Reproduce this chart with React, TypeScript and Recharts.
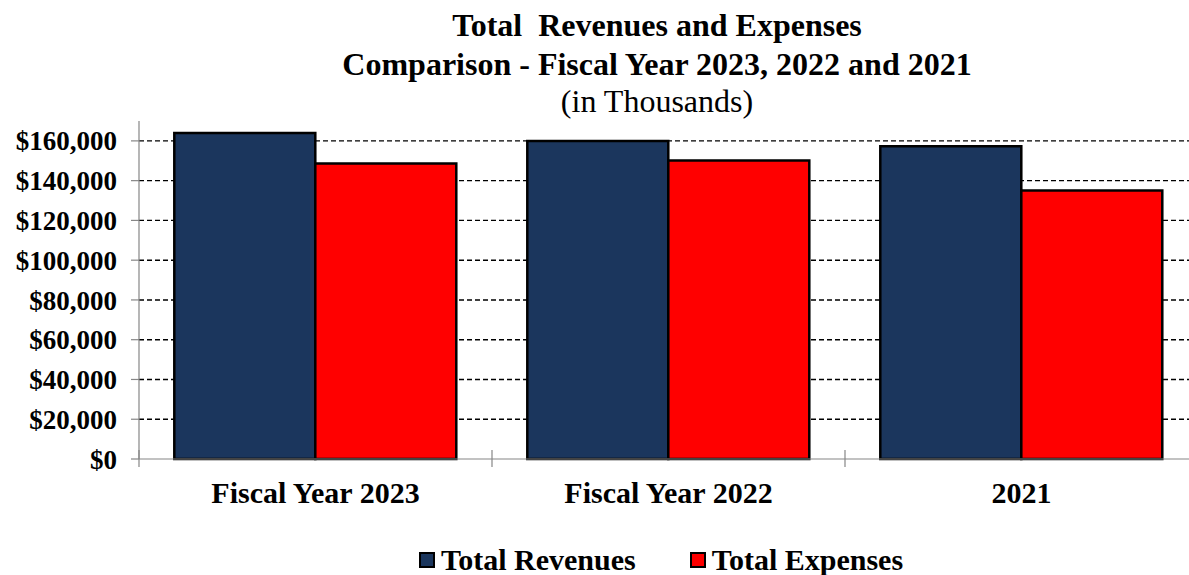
import { BarChart, Bar, XAxis, YAxis, CartesianGrid } from "recharts"

const categories = ["Fiscal Year 2023", "Fiscal Year 2022", "2021"]
const totalRevenues = [164000, 159900, 157300]
const totalExpenses = [148600, 150100, 135000]
const yTicks = [0, 20000, 40000, 60000, 80000, 100000, 120000, 140000, 160000]

const series = [
  { key: "revenues", name: "Total Revenues", color: "#1b365d" },
  { key: "expenses", name: "Total Expenses", color: "#ff0000" },
]

const titleLines = [
  { text: "Total  Revenues and Expenses", bold: true, top: 9 },
  { text: "Comparison - Fiscal Year 2023, 2022 and 2021", bold: true, top: 48 },
  { text: "(in Thousands)", bold: false, top: 85 },
]

const data = categories.map((name, i) => ({
  name,
  revenues: totalRevenues[i],
  expenses: totalExpenses[i],
}))

const FONT = '"Liberation Serif", "Times New Roman", serif'
const AXIS_GRAY = "#868686"

// plot spans x 139..1198 (right edge is cut off by the frame), y 121..459
const CHART_W = 1200
const PLOT_LEFT = 139
const PLOT_RIGHT = 1198
const BAND = (PLOT_RIGHT - PLOT_LEFT) / categories.length

const money = (v: number) => "$" + v.toLocaleString("en-US")

function CategoryTick(props: any) {
  const { x, y, payload, index } = props
  const left = x - BAND / 2
  return (
    <g>
      <line x1={left} x2={left} y1={y - 9} y2={y + 8} stroke={AXIS_GRAY} strokeWidth={1.2} />
      {index === categories.length - 1 && (
        <line x1={x + BAND / 2} x2={x + BAND / 2} y1={y - 9} y2={y + 8} stroke={AXIS_GRAY} strokeWidth={1.2} />
      )}
      <text
        x={x}
        y={y + 33}
        textAnchor="middle"
        dominantBaseline="central"
        fontFamily={FONT}
        fontWeight="bold"
        fontSize={30}
        fill="#000"
      >
        {payload.value}
      </text>
    </g>
  )
}

export default function App() {
  return (
    <div
      style={{
        position: "absolute",
        left: 0,
        top: 0,
        width: 1189,
        height: 575,
        overflow: "hidden",
        background: "#fff",
        fontFamily: FONT,
      }}
    >
      <BarChart
        width={CHART_W}
        height={575}
        data={data}
        margin={{ top: 121, right: CHART_W - PLOT_RIGHT, left: 0, bottom: 0 }}
        barCategoryGap="10%"
        barGap={0}
      >
        <CartesianGrid
          horizontal
          vertical={false}
          horizontalValues={yTicks.slice(1)}
          stroke="#000"
          strokeWidth={1.4}
          strokeDasharray="5 3"
        />
        <XAxis
          dataKey="name"
          height={116}
          axisLine={{ stroke: AXIS_GRAY, strokeWidth: 1.2 }}
          tickLine={false}
          tickSize={0}
          tickMargin={0}
          tick={<CategoryTick />}
          interval={0}
        />
        <YAxis
          width={PLOT_LEFT}
          domain={[0, 170000]}
          ticks={yTicks}
          tickFormatter={money}
          axisLine={{ stroke: AXIS_GRAY, strokeWidth: 1.2 }}
          tickLine={{ stroke: AXIS_GRAY, strokeWidth: 1.2 }}
          tickSize={8}
          tickMargin={14}
          tick={{ fontFamily: FONT, fontWeight: "bold", fontSize: 27, fill: "#000" }}
        />
        {series.map((s) => (
          <Bar
            key={s.key}
            dataKey={s.key}
            name={s.name}
            fill={s.color}
            stroke="#000"
            strokeWidth={2.5}
            isAnimationActive={false}
          />
        ))}
      </BarChart>

      {titleLines.map((l) => (
        <div
          key={l.text}
          style={{
            position: "absolute",
            left: 657 - 400,
            top: l.top,
            width: 800,
            textAlign: "center",
            color: "#000",
            fontSize: 32,
            fontWeight: l.bold ? "bold" : "normal",
            lineHeight: "32px",
            whiteSpace: "pre",
          }}
        >
          {l.text}
        </div>
      ))}

      <div
        style={{
          position: "absolute",
          left: 0,
          top: 544,
          width: 1322,
          display: "flex",
          justifyContent: "center",
          gap: 54,
          fontSize: 30,
          fontWeight: "bold",
          lineHeight: "32px",
        }}
      >
        {series.map((s) => (
          <div key={s.key} style={{ display: "flex", alignItems: "center" }}>
            <span
              style={{
                display: "inline-block",
                width: 12,
                height: 12,
                background: s.color,
                border: "2px solid #000",
                marginRight: 6,
              }}
            />
            {s.name}
          </div>
        ))}
      </div>
    </div>
  )
}
